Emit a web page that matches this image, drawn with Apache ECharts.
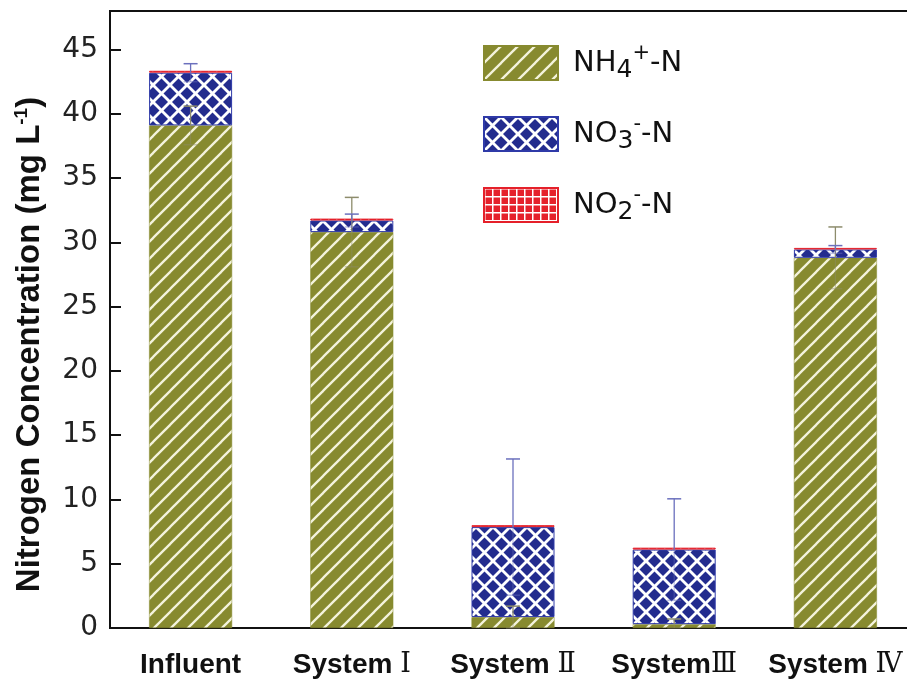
<!DOCTYPE html>
<html><head><meta charset="utf-8">
<script src="https://cdn.jsdelivr.net/npm/echarts@6/dist/echarts.min.js"></script>
<style>html,body{margin:0;padding:0;background:#fff}#c{width:907px;height:680px}</style>
</head><body><div id="c"></div>
<script>
// ---- data ----
const categories = ['Influent', 'System Ⅰ', 'System Ⅱ', 'SystemⅢ', 'System Ⅳ'];
const seriesNames = ['NH4+-N', 'NO3--N', 'NO2--N'];
const nh4 = [39.1, 30.8, 0.85, 0.3, 28.8];
const no3 = [4.1, 0.9, 7.0, 5.8, 0.65];
const no2 = [0.15, 0.15, 0.15, 0.15, 0.12];
const nh4Err = [1.5, 2.7, 0.85, 0.4, 2.4];
const no3Err = [0.7, 0.5, 5.3, 3.95, 0.3];
const yTicks = [0, 5, 10, 15, 20, 25, 30, 35, 40, 45];

// ---- patterns ----
function mk(w, h, draw) { const c = document.createElement('canvas'); c.width = w; c.height = h; draw(c.getContext('2d'), w, h); return c; }
const OLIVE = '#878a2f', BLUE = '#232c8e', RED = '#e5202a';
const pNH4 = mk(17, 17, (g, w, h) => {
  g.fillStyle = OLIVE; g.fillRect(0, 0, w, h);
  g.strokeStyle = '#f4f3dc'; g.lineWidth = 2.3; g.lineCap = 'square';
  for (let k = -1; k <= 1; k++) { g.beginPath(); g.moveTo(k * w, h); g.lineTo(k * w + w, 0); g.stroke(); }
});
const pNO3 = mk(17, 17, (g, w, h) => {
  g.fillStyle = BLUE; g.fillRect(0, 0, w, h);
  g.strokeStyle = '#ffffff'; g.lineWidth = 2.8;
  for (let k = -1; k <= 1; k++) {
    g.beginPath(); g.moveTo(k * w, h); g.lineTo(k * w + w, 0); g.stroke();
    g.beginPath(); g.moveTo(k * w, 0); g.lineTo(k * w + w, h); g.stroke();
  }
});
const pNO2 = mk(8, 8, (g, w, h) => {
  g.fillStyle = RED; g.fillRect(0, 0, w, h);
  g.fillStyle = '#ffffff'; g.fillRect(0, 0, w, 1.5); g.fillRect(0, 0, 1.5, h);
});

const cum1 = nh4.slice();
const cum2 = nh4.map((v, i) => v + no3[i]);
const errData = [];
categories.forEach((c, i) => {
  errData.push([i, cum1[i], nh4Err[i], 0]);
  errData.push([i, cum2[i], no3Err[i], 1]);
});
const errColors = ['#8d8c6c', '#6b70bd'];

const chart = echarts.init(document.getElementById('c'));
const FONT = 'Liberation Sans', WIDE = 'DejaVu Sans';
chart.setOption({
  animation: false,
  grid: { left: 110, width: 806, top: 11, bottom: 52, outerBoundsMode: 'none', containLabel: false,
    show: true, borderColor: '#111', borderWidth: 2, backgroundColor: 'transparent' },
  legend: {
    data: seriesNames, orient: 'vertical', left: 483, top: 43, padding: 0,
    itemWidth: 74, itemHeight: 34, itemGap: 31, icon: 'rect',
    formatter: n => ({
      'NH4+-N': '{m|NH}{sub|4}{sup|+}{m|-N}',
      'NO3--N': '{m|NO}{sub|3}{sup|-}{m|-N}',
      'NO2--N': '{m|NO}{sub|2}{sup|-}{m|-N}'
    })[n],
    textStyle: {
      fontFamily: WIDE, fontSize: 29, color: '#111', padding: [0, 0, 0, 10],
      rich: {
        m: { fontFamily: WIDE, fontSize: 29, color: '#111', lineHeight: 40 },
        sub: { fontFamily: WIDE, fontSize: 25, color: '#111', lineHeight: 22, verticalAlign: 'bottom' },
        sup: { fontFamily: WIDE, fontSize: 21, color: '#111', lineHeight: 20, verticalAlign: 'top' }
      }
    }
  },
  xAxis: {
    type: 'category', data: categories,
    axisLine: { lineStyle: { color: '#111', width: 2 } },
    axisTick: { show: false },
    axisLabel: { interval: 0, margin: 22,
      formatter: v => { const m = v.match(/^(System\s?)(.+)$/); return m ? '{b|' + m[1] + '}{r|' + m[2] + '}' : '{b|' + v + '}'; },
      rich: {
        b: { fontFamily: FONT, fontSize: 28, fontWeight: 'bold', color: '#111', lineHeight: 30 },
        r: { fontFamily: 'DejaVu Serif', fontSize: 27, fontWeight: 'normal', color: '#111', lineHeight: 30 }
      } }
  },
  yAxis: {
    type: 'value', min: 0, max: 48, interval: 5,
    name: '{b|Nitrogen Concentration (mg L}{s|-1}{b|)}',
    nameLocation: 'middle', nameGap: 62, nameRotate: 90,
    nameTextStyle: {
      padding: [0, 50, 0, 0],
      rich: {
        b: { fontFamily: FONT, fontSize: 33, fontWeight: 'bold', color: '#111', lineHeight: 36 },
        s: { fontFamily: FONT, fontSize: 19, fontWeight: 'bold', color: '#111', lineHeight: 19, verticalAlign: 'top' }
      }
    },
    axisLine: { show: true, lineStyle: { color: '#111', width: 2 } },
    axisTick: { show: true, inside: true, length: 11, lineStyle: { color: '#111', width: 2 } },
    axisLabel: { margin: 12, fontFamily: WIDE, fontSize: 28, color: '#222',
      formatter: v => yTicks.indexOf(v) >= 0 ? String(v) : '' },
    splitLine: { show: false }
  },
  series: [
    { name: seriesNames[0], type: 'bar', stack: 'n', data: nh4, barWidth: 83,
      itemStyle: { color: { image: pNH4, repeat: 'repeat' }, borderColor: OLIVE, borderWidth: 0.5 } },
    { name: seriesNames[1], type: 'bar', stack: 'n', data: no3, barWidth: 83,
      itemStyle: { color: { image: pNO3, repeat: 'repeat' }, borderColor: '#2f3aa8', borderWidth: 1 } },
    { name: seriesNames[2], type: 'bar', stack: 'n', data: no2, barWidth: 83,
      itemStyle: { color: { image: pNO2, repeat: 'repeat' }, borderColor: RED, borderWidth: 1 } },
    { name: 'err', type: 'custom', data: errData, z: 10,
      renderItem: (params, api) => {
        const x = api.value(0), y = api.value(1), e = api.value(2), k = api.value(3);
        const mid = api.coord([x, y]);
        const top = api.coord([x, y + e]), bot = api.coord([x, Math.max(0, y - e)]);
        const col = errColors[k];
        const cw = 7;
        return { type: 'group', children: [
          { type: 'line', shape: { x1: top[0], y1: top[1], x2: mid[0], y2: mid[1] }, style: { stroke: col, lineWidth: 1.3 } },
          { type: 'line', shape: { x1: mid[0], y1: mid[1], x2: bot[0], y2: bot[1] }, style: { stroke: col, lineWidth: 1.2, opacity: 0.45 } },
          { type: 'line', shape: { x1: top[0] - cw, y1: top[1], x2: top[0] + cw, y2: top[1] }, style: { stroke: col, lineWidth: 1.5 } },
          { type: 'line', shape: { x1: bot[0] - cw, y1: bot[1], x2: bot[0] + cw, y2: bot[1] }, style: { stroke: col, lineWidth: 1.5, opacity: 0.45 } }
        ] };
      } }
  ]
});
</script></body></html>
